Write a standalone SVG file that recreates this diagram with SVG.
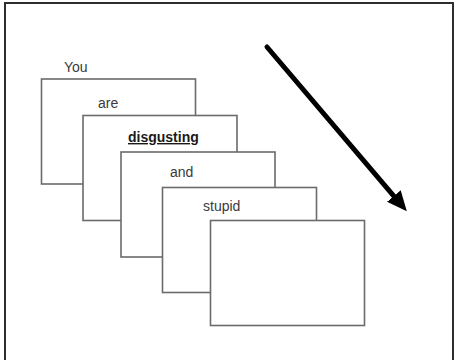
<svg xmlns="http://www.w3.org/2000/svg" width="454" height="360" viewBox="0 0 454 360">
  <style>
    .card { fill: #ffffff; stroke: #6b6b6b; stroke-width: 1.6; }
    .lbl { font-family: "Liberation Sans", Arial, sans-serif; font-size: 14px; fill: #3a3a3a; }
    .bold { font-weight: bold; fill: #1a1a1a; text-decoration: underline; }
    .frame { fill: #ffffff; stroke: #2e2e2e; stroke-width: 2; }
    .arrow { stroke: #000000; stroke-width: 5; stroke-linecap: round; fill: none; }
  </style>
  <defs>
    <marker id="head" markerUnits="userSpaceOnUse" markerWidth="20" markerHeight="18" viewBox="0 0 20 18" refX="1" refY="9" orient="auto">
      <path d="M0,0 L20,9 L0,18 z" fill="#000000"/>
    </marker>
  </defs>
  <rect class="frame" x="5" y="3" width="448" height="358"/>
  <g id="card1">
    <rect class="card" x="41.5" y="79" width="154" height="105"/>
    <text class="lbl" x="64" y="72">You</text>
  </g>
  <g id="card2">
    <rect class="card" x="83" y="115.5" width="154" height="105"/>
    <text class="lbl" x="98" y="108">are</text>
  </g>
  <g id="card3">
    <rect class="card" x="121" y="152" width="154" height="105"/>
    <text class="lbl bold" x="128" y="142">disgusting</text>
  </g>
  <g id="card4">
    <rect class="card" x="162.5" y="187.5" width="154" height="105"/>
    <text class="lbl" x="170" y="177">and</text>
  </g>
  <g id="card5">
    <rect class="card" x="210.5" y="220.5" width="154" height="105"/>
    <text class="lbl" x="203" y="211">stupid</text>
  </g>
  <g id="connectors">
    <line class="arrow" x1="267" y1="47" x2="394.5" y2="196.8" marker-end="url(#head)"/>
  </g>
</svg>
